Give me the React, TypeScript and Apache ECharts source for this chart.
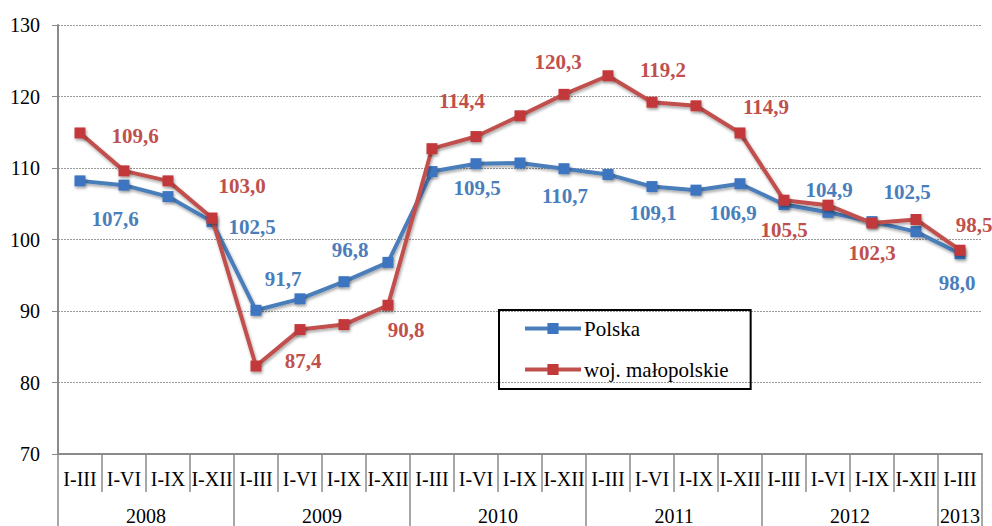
import React, { useEffect, useRef } from "react";
import * as echarts from "echarts";

const quarters = [
  "I-III", "I-VI", "I-IX", "I-XII",
  "I-III", "I-VI", "I-IX", "I-XII",
  "I-III", "I-VI", "I-IX", "I-XII",
  "I-III", "I-VI", "I-IX", "I-XII",
  "I-III", "I-VI", "I-IX", "I-XII",
  "I-III",
];
const years = ["2008", "2009", "2010", "2011", "2012", "2013"];
const yearLabelPos = [2, 6, 10, 14, 18, 20.5];
const yearBoundaries = [0, 4, 8, 12, 16, 20, 21];

const polska = [108.2, 107.6, 106.0, 102.5, 90.1, 91.7, 94.1, 96.8, 109.5, 110.6, 110.7, 109.9, 109.1, 107.4, 106.9, 107.8, 104.9, 103.8, 102.5, 101.1, 98.0];
const malopolskie = [114.9, 109.6, 108.2, 103.0, 82.3, 87.4, 88.1, 90.8, 112.7, 114.4, 117.3, 120.3, 122.9, 119.2, 118.7, 114.9, 105.5, 104.8, 102.3, 102.8, 98.5];

// label placement: [index, dx, dy]
const polskaLabels: [number, number, number][] = [
  [1, -9, 34], [3, 40, 5], [5, -17, -20], [7, -38, -12], [8, 45, 16],
  [10, 45, 33], [12, 45, 39], [14, 37, 23], [16, 45, -14], [18, 35, -30], [20, -3, 29],
];
const maloLabels: [number, number, number][] = [
  [1, 11, -35], [3, 30, -32], [5, 3, 31], [7, 18, 25], [9, -14, -36],
  [11, -6, -32], [13, 11, -32], [15, 26, -26], [16, 0, 30], [18, 0, 30], [20, 14, -25],
];

const BLUE = "#4A7EBB";
const BLUE_M = "#3C75C0";
const RED = "#C0504D";
const RED_M = "#C2393A";
const FONT = "'Liberation Serif', 'Times New Roman', serif";

function buildData(values: number[], labels: [number, number, number][], color: string) {
  return values.map((v, i) => {
    const l = labels.find((x) => x[0] === i);
    if (!l) return { value: v };
    return {
      value: v,
      label: {
        show: true,
        position: "inside",
        offset: [l[1], l[2]],
        color,
        fontFamily: FONT,
        fontWeight: "bold",
        fontSize: 21,
        formatter: (p: any) => Number(p.value).toFixed(1).replace(".", ","),
      },
    };
  });
}

export default function App() {
  const ref = useRef<HTMLDivElement>(null);
  useEffect(() => {
    if (!ref.current) return;
    const chart = echarts.init(ref.current, null, { renderer: "svg" });
    const shadow = { shadowColor: "rgba(0,0,0,0.35)", shadowBlur: 3, shadowOffsetX: 1, shadowOffsetY: 2 };
    chart.setOption({
      animation: false,
      backgroundColor: "#ffffff",
      grid: { left: 58, right: 10, top: 25, bottom: 71, containLabel: false },
      legend: {
        show: true,
        orient: "vertical",
        left: 499,
        top: 310,
        padding: [8, 22, 9, 24],
        borderColor: "#000",
        borderWidth: 2,
        itemWidth: 56,
        itemHeight: 14,
        itemGap: 20,
        lineStyle: { width: 4 },
        textStyle: { fontFamily: FONT, fontSize: 21, color: "#000", lineHeight: 20, padding: [0, 0, 0, -2] },
        data: ["Polska", "woj. małopolskie"],
      },
      xAxis: [
        {
          type: "category",
          data: quarters,
          boundaryGap: true,
          position: "bottom",
          axisLine: { show: true, lineStyle: { color: "#8a8a8a", width: 2 } },
          axisTick: { show: true, interval: 0, length: 38, lineStyle: { color: "#8a8a8a", width: 1.5 } },
          axisLabel: { interval: 0, margin: 15, color: "#000", fontFamily: FONT, fontSize: 20 },
          splitLine: { show: false },
        },
        {
          type: "value",
          min: 0,
          max: 21,
          position: "bottom",
          offset: 38,
          axisLine: { show: false },
          axisTick: { show: true, length: 40, customValues: yearBoundaries, lineStyle: { color: "#8a8a8a", width: 1.5 } },
          axisLabel: {
            show: true,
            customValues: yearLabelPos,
            margin: 14,
            color: "#000",
            fontFamily: FONT,
            fontSize: 20,
            formatter: (v: number) => {
              const idx = yearLabelPos.indexOf(v);
              return idx >= 0 ? years[idx] : "";
            },
          },
          splitLine: { show: false },
        },
      ],
      yAxis: {
        type: "value",
        min: 70,
        max: 130,
        interval: 10,
        axisLine: { show: true, lineStyle: { color: "#8a8a8a", width: 2 } },
        axisTick: { show: true, length: 6, lineStyle: { color: "#8a8a8a" } },
        axisLabel: { margin: 18, color: "#000", fontFamily: FONT, fontSize: 20 },
        splitLine: { show: true, lineStyle: { color: "#9a9a9a", type: [2, 1], width: 1 } },
      },
      series: [
        {
          name: "Polska",
          type: "line",
          xAxisIndex: 0,
          data: buildData(polska, polskaLabels, BLUE),
          symbol: "rect",
          symbolSize: 11,
          lineStyle: { color: BLUE, width: 4, ...shadow },
          itemStyle: { color: BLUE_M, ...shadow },
          z: 2,
        },
        {
          name: "woj. małopolskie",
          type: "line",
          xAxisIndex: 0,
          data: buildData(malopolskie, maloLabels, RED),
          symbol: "rect",
          symbolSize: 11,
          lineStyle: { color: RED, width: 4, ...shadow },
          itemStyle: { color: RED_M, ...shadow },
          z: 3,
        },
      ],
    });
    return () => chart.dispose();
  }, []);
  return <div ref={ref} style={{ width: 992, height: 526, position: "absolute", left: 0, top: 0 }} />;
}
